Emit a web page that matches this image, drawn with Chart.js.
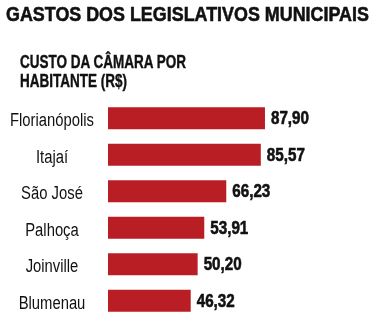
<!DOCTYPE html>
<html>
<head>
<meta charset="utf-8">
<script src="https://cdn.jsdelivr.net/npm/chart.js@4"></script>
<style>
  html, body { margin: 0; padding: 0; background: #fff; }
  #wrap { position: relative; width: 377px; height: 323px; overflow: hidden; }
  #title { position: absolute; left: 6px; top: 3px; font: bold 21px "Liberation Sans", Arial, sans-serif; line-height: 21px; color: #111; white-space: nowrap; transform: scaleX(0.852); transform-origin: 0 0; -webkit-text-stroke: 0.6px #111; }
  #subtitle { position: absolute; left: 20px; top: 53px; font: bold 18px "Liberation Sans", Arial, sans-serif; line-height: 19px; color: #111; white-space: nowrap; transform: scaleX(0.75); transform-origin: 0 0; -webkit-text-stroke: 0.4px #111; }
  canvas { position: absolute; left: 0; top: 0; }
</style>
</head>
<body>
<div id="wrap">
  <canvas id="c" width="377" height="323"></canvas>
  <div id="title">GASTOS DOS LEGISLATIVOS MUNICIPAIS</div>
  <div id="subtitle">CUSTO DA CÂMARA POR<br>HABITANTE (R$)</div>
</div>
<script>
const categories = ["Florianópolis", "Itajaí", "São José", "Palhoça", "Joinville", "Blumenau"];
const values = [87.90, 85.57, 66.23, 53.91, 50.20, 46.32];
const valueLabels = ["87,90", "85,57", "66,23", "53,91", "50,20", "46,32"];

// Condensed text drawn through the chart's own scales
const textPlugin = {
  id: 'condensedText',
  afterDatasetsDraw(chart) {
    const ctx = chart.ctx;
    const yScale = chart.scales.y;
    const meta = chart.getDatasetMeta(0);
    const labelCenterX = chart.chartArea.left - 56;
    ctx.save();
    ctx.fillStyle = '#111';
    ctx.strokeStyle = '#111';
    // category labels
    ctx.font = '18px "Liberation Sans", Arial, sans-serif';
    ctx.textAlign = 'center';
    ctx.textBaseline = 'middle';
    categories.forEach((c, i) => {
      const y = yScale.getPixelForTick(i);
      ctx.save();
      ctx.translate(labelCenterX, y + 3);
      ctx.scale(0.823, 1);
      ctx.fillText(c, 0, 0);
      ctx.restore();
    });
    // value labels
    ctx.font = 'bold 19px "Liberation Sans", Arial, sans-serif';
    ctx.textAlign = 'left';
    ctx.lineWidth = 0.6;
    meta.data.forEach((bar, i) => {
      ctx.save();
      ctx.translate(bar.x + 6, bar.y + 1);
      ctx.scale(0.8, 1);
      ctx.fillText(valueLabels[i], 0, 0);
      ctx.strokeText(valueLabels[i], 0, 0);
      ctx.restore();
    });
    ctx.restore();
  }
};

new Chart(document.getElementById('c'), {
  type: 'bar',
  data: {
    labels: categories,
    datasets: [{
      data: values,
      backgroundColor: 'rgb(184,30,36)',
      borderWidth: 0,
      barPercentage: 0.6,
      categoryPercentage: 1
    }]
  },
  options: {
    indexAxis: 'y',
    responsive: false,
    animation: false,
    devicePixelRatio: 1,
    layout: { padding: { left: 10, right: 19, top: 100, bottom: 4 } },
    plugins: { legend: { display: false }, tooltip: { enabled: false } },
    scales: {
      x: { display: false, min: 0, max: 140 },
      y: {
        grid: { display: false, drawTicks: false },
        border: { display: false },
        ticks: { display: false },
        afterFit(s) { s.width = 98; s.paddingTop = 0; s.paddingBottom = 0; }
      }
    }
  },
  plugins: [textPlugin]
});
</script>
</body>
</html>
